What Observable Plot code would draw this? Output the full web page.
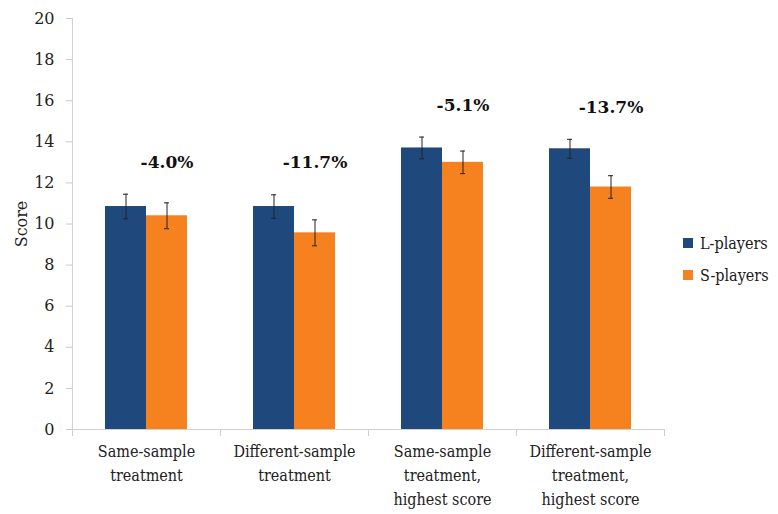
<!DOCTYPE html>
<html>
<head>
<meta charset="utf-8">
<script src="https://cdn.jsdelivr.net/npm/d3@7"></script>
<script src="https://cdn.jsdelivr.net/npm/@observablehq/plot@0.6"></script>
<style>
  body { margin: 0; background: #fff; }
  #wrap { position: relative; width: 778px; height: 514px; font-family: "DejaVu Serif", serif; }
  #legend { position: absolute; left: 683px; top: 227px; font-size: 16px; color: #1a1a1a; font-family: "DejaVu Serif Condensed", "DejaVu Serif", serif; }
  .item { display: flex; align-items: center; height: 32px; }
  .sw { width: 10px; height: 10px; margin-right: 7px; }
</style>
</head>
<body>
<div id="wrap"><div id="legend"></div></div>
<script>
const categories = ["Same-sample treatment", "Different-sample treatment", "Same-sample treatment, highest score", "Different-sample treatment, highest score"];
const tickLabels = ["Same-sample\ntreatment", "Different-sample\ntreatment", "Same-sample\ntreatment,\nhighest score", "Different-sample\ntreatment,\nhighest score"];
const series = ["L-players", "S-players"];
const lValues = [10.85, 10.85, 13.7, 13.66];
const sValues = [10.4, 9.57, 13.0, 11.8];
const lErrors = [0.6, 0.57, 0.53, 0.46];
const sErrors = [0.63, 0.63, 0.55, 0.55];
const diffLabels = ["-4.0%", "-11.7%", "-5.1%", "-13.7%"];
const yTicks = [0, 2, 4, 6, 8, 10, 12, 14, 16, 18, 20];
const colors = ["#1f497d", "#f5821f"];

const rows = [];
categories.forEach((c, i) => {
  rows.push({category: c, series: series[0], value: lValues[i], err: lErrors[i]});
  rows.push({category: c, series: series[1], value: sValues[i], err: sErrors[i]});
});
const labelRows = categories.map((c, i) => ({category: c, series: series[1], y: lValues[i] + lErrors[i], text: diffLabels[i]}));
const tickMap = new Map(categories.map((c, i) => [c, tickLabels[i]]));

const condensed = '"DejaVu Serif Condensed", "DejaVu Serif", serif';
const chart = Plot.plot({
  width: 778, height: 514,
  marginLeft: 70, marginRight: 113, marginTop: 18, marginBottom: 85,
  style: {fontFamily: '"DejaVu Serif", serif', fontSize: "16px", background: "transparent", color: "#1a1a1a"},
  fx: {domain: categories, padding: 0, label: null},
  x: {domain: series, paddingInner: 0, paddingOuter: 0.771, axis: null},
  y: {domain: [0, 20]},
  color: {domain: series, range: colors},
  marks: [
    Plot.barY(rows, {fx: "category", x: "series", y: "value", fill: "series"}),
    Plot.ruleY([0], {stroke: "#d0d0d0"}),
    Plot.frame({anchor: "left", facetAnchor: "left", stroke: "#d0d0d0"}),
    Plot.frame({anchor: "left", stroke: "#d0d0d0", insetTop: 411, insetBottom: -6}),
    Plot.frame({anchor: "right", stroke: "#d0d0d0", insetTop: 411, insetBottom: -6}),
    Plot.ruleX(rows, {fx: "category", x: "series", y1: d => d.value - d.err, y2: d => d.value + d.err, stroke: "#222", strokeWidth: 1}),
    Plot.tickY(rows, {fx: "category", x: "series", y: d => d.value - d.err, stroke: "#222", insetLeft: 18, insetRight: 18}),
    Plot.tickY(rows, {fx: "category", x: "series", y: d => d.value + d.err, stroke: "#222", insetLeft: 18, insetRight: 18}),
    Plot.axisY({ticks: yTicks, tickSize: 6, tickPadding: 12, stroke: "#c8c8c8", fill: "#222", fontSize: 16,
      label: "Score", labelAnchor: "center", labelArrow: "none", labelOffset: 57}),
    Plot.axisFx({anchor: "bottom", tickSize: 0, tickPadding: 10, tickFormat: d => tickMap.get(d), lineHeight: 1.5, fill: "#222", fontSize: 16, fontFamily: condensed, label: null}),
    Plot.text(labelRows, {fx: "category", x: "series", y: "y", text: "text", dy: -32, fontWeight: "bold", fontSize: 17, fill: "#111"})
  ]
});
const wrap = document.getElementById("wrap");
wrap.insertBefore(chart, wrap.firstChild);

const legend = document.getElementById("legend");
series.forEach((s, i) => {
  const item = document.createElement("div");
  item.className = "item";
  const sw = document.createElement("span");
  sw.className = "sw";
  sw.style.background = colors[i];
  const t = document.createElement("span");
  t.textContent = s;
  item.appendChild(sw);
  item.appendChild(t);
  legend.appendChild(item);
});
</script>
</body>
</html>
